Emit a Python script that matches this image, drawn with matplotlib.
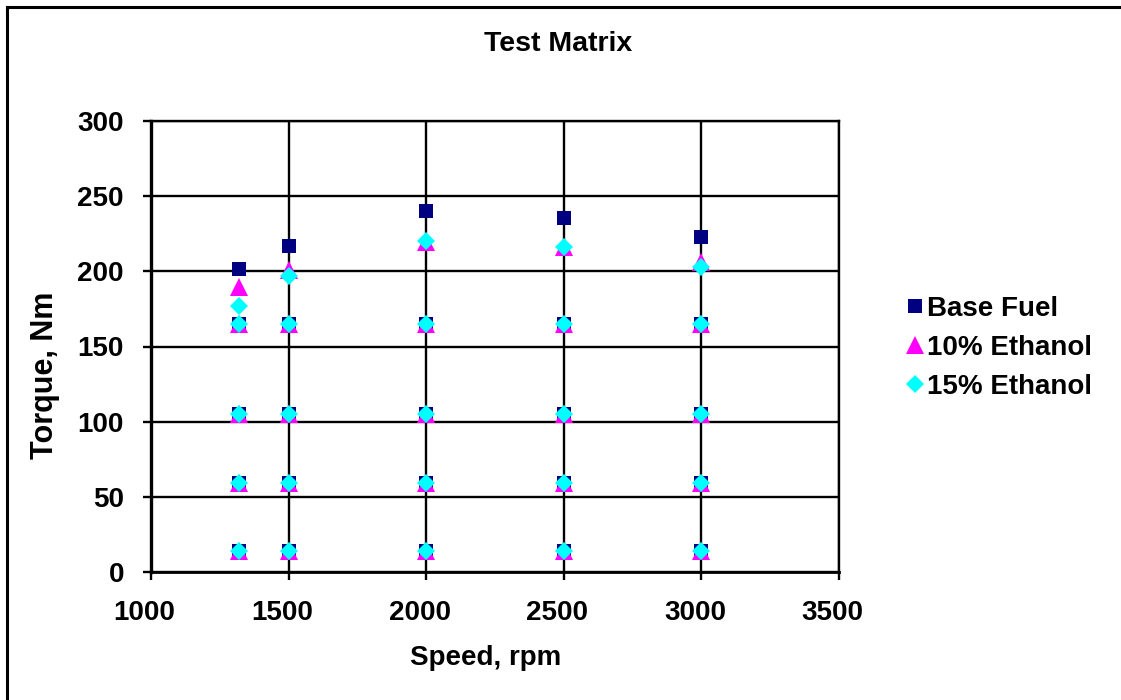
import matplotlib
matplotlib.use("Agg")
import matplotlib.pyplot as plt
import matplotlib.transforms as mtransforms
from matplotlib.lines import Line2D

plt.rcParams['font.family'] = ['Liberation Sans', 'DejaVu Sans']
plt.rcParams['font.weight'] = 'bold'

# Données
vitesse = [1320, 1500, 2000, 2500, 3000]
paliers = [165, 105, 59, 14]

base_max = [201.5, 217, 240, 235.5, 223]
eth10_max = [189.5, 201, 219.5, 216.5, 206]
eth15_max = [177, 197, 220, 216, 203]

series = [
    ("Base Fuel", base_max, "s", "#000080", 10),
    ("10% Ethanol", eth10_max, "^", "#FF00FF", 12.7),
    ("15% Ethanol", eth15_max, "D", "#00FFFF", 8.8),
]

fig = plt.figure(figsize=(11.21, 7.0), dpi=100)
ax = fig.add_axes([0.1347, 0.1829, 0.6137, 0.6442])

for nom, valeurs, marqueur, couleur, taille in series:
    xs = []
    ys = []
    for v, m in zip(vitesse, valeurs):
        xs.append(v)
        ys.append(m)
        for p in paliers:
            xs.append(v)
            ys.append(p)
    ax.plot(xs, ys, linestyle="none", marker=marqueur, color=couleur,
            markersize=taille, markeredgewidth=0, label=nom, zorder=3)

ax.set_xlim(1000, 3500)
ax.set_ylim(0, 300)
ax.set_xticks(range(1000, 3501, 500))
ax.set_yticks(range(0, 301, 50))
ax.grid(True, color="black", linewidth=1.7)
ax.set_axisbelow(True)

for s in ax.spines.values():
    s.set_color("black")
    s.set_linewidth(1.7)
ax.spines['left'].set_linewidth(2.4)
ax.spines['bottom'].set_linewidth(2.0)

ax.tick_params(direction="out", length=6, width=1.7, labelsize=20)
ax.tick_params(axis="x", pad=14)
ax.tick_params(axis="y", pad=13.5)
for lab in ax.get_xticklabels() + ax.get_yticklabels():
    lab.set_fontweight("bold")

# Décalage des étiquettes de l'axe x vers la gauche (comme dans l'original)
decal = mtransforms.ScaledTranslation(-6.5 / 100, 0, fig.dpi_scale_trans)
for lab in ax.get_xticklabels():
    lab.set_transform(lab.get_transform() + decal)

ax.set_xlabel("Speed, rpm", fontsize=20, fontweight="bold")
ax.xaxis.set_label_coords(0.486, -0.162)
ax.set_ylabel("Torque, Nm", fontsize=22, fontweight="bold")
ax.yaxis.set_label_coords(-0.132, 0.435)
fig.text(0.498, 0.937, "Test Matrix", ha="center", va="center",
         fontsize=20.5, fontweight="bold")

leg = ax.legend(loc="center left", bbox_to_anchor=(1.07, 0.497), frameon=False,
                fontsize=20, handletextpad=-0.15, labelspacing=0.48,
                handlelength=1.2, borderaxespad=0)
for t in leg.get_texts():
    t.set_fontweight("bold")

# Cadre du graphique (bords gauche et haut visibles)
fig.add_artist(Line2D([0.0063, 0.0063], [0.0, 0.99], transform=fig.transFigure,
                      color="black", linewidth=2.2))
fig.add_artist(Line2D([0.0063, 1.0], [0.99, 0.99], transform=fig.transFigure,
                      color="black", linewidth=2.2))

fig.savefig("out.png", dpi=100)
